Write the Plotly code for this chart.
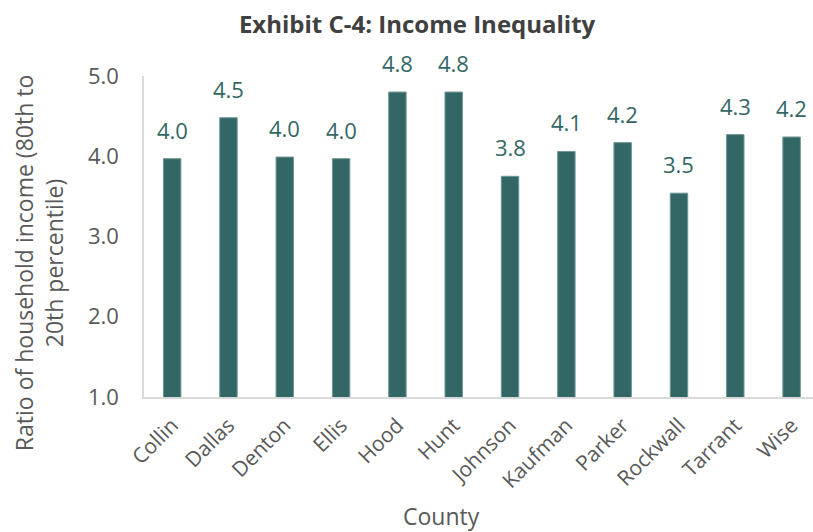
import plotly.graph_objects as go

counties = ["Collin", "Dallas", "Denton", "Ellis", "Hood", "Hunt", "Johnson",
            "Kaufman", "Parker", "Rockwall", "Tarrant", "Wise"]
ratios = [3.97, 4.48, 3.99, 3.97, 4.80, 4.80, 3.75, 4.06, 4.17, 3.54, 4.27, 4.24]
y_ticks = [1.0, 2.0, 3.0, 4.0, 5.0]

BAR = "#336766"
FONT = "Open Sans"
GREY = "#595959"

fig = go.Figure(go.Bar(
    x=counties, y=ratios,
    marker=dict(color=BAR, line=dict(color="#6f9795", width=1)),
    width=0.31,
))

for c, v in zip(counties, ratios):
    fig.add_annotation(x=c, y=v, text=f"{v:.1f}", showarrow=False,
                       yanchor="bottom", yshift=12,
                       font=dict(family=FONT, size=22, color=BAR))

fig.add_annotation(text="Ratio of household income (80th to<br>20th percentile)",
                   xref="paper", yref="paper", x=0, y=0.417, xanchor="right",
                   yanchor="middle", xshift=-72, textangle=-90, showarrow=False,
                   font=dict(family=FONT, size=23, color=GREY))
fig.add_annotation(text="County", xref="paper", yref="paper",
                   x=(441 - 144) / (813 - 144), y=0, yanchor="middle",
                   yshift=-(516 - 397), showarrow=False,
                   font=dict(family=FONT, size=23, color=GREY))

fig.update_layout(
    width=813, height=532,
    margin=dict(l=144, r=0, t=76, b=135),
    paper_bgcolor="white", plot_bgcolor="white",
    showlegend=False,
    title=dict(text="<b>Exhibit C-4: Income Inequality</b>", x=0.513, xanchor="center",
               y=1 - 25 / 532, yanchor="middle", yref="container",
               font=dict(family=FONT, size=24, color="#404040")),
    xaxis=dict(range=[-0.5, 11.38], tickangle=-45, showgrid=False,
               showline=True, linecolor="#d9d9d9", linewidth=1.5,
               tickfont=dict(family=FONT, size=21, color=GREY),
               ticks="outside", ticklen=6, tickcolor="rgba(0,0,0,0)"),
    yaxis=dict(range=[1, 5], tickvals=y_ticks, ticktext=[f"{t:.1f}" for t in y_ticks],
               showgrid=False, zeroline=False, showline=True, linecolor="#d9d9d9",
               linewidth=1.5, ticks="outside", ticklen=19, tickcolor="rgba(0,0,0,0)",
               tickfont=dict(family=FONT, size=22, color=GREY)),
)

fig.write_html("out.html")
